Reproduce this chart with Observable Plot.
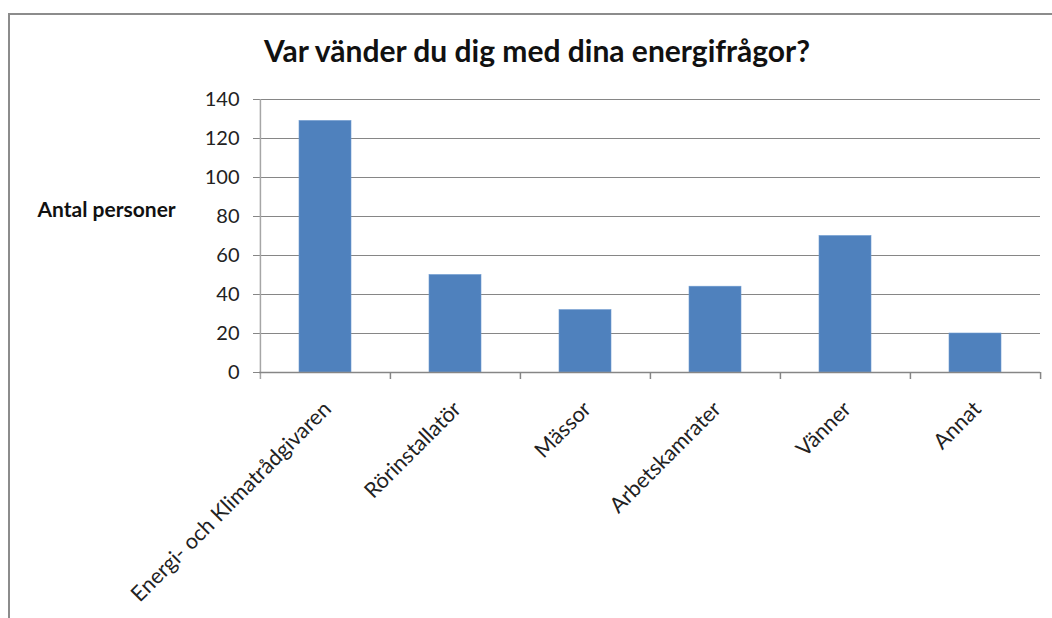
<!DOCTYPE html>
<html><head><meta charset="utf-8">
<script src="https://cdn.jsdelivr.net/npm/d3@7"></script>
<script src="https://cdn.jsdelivr.net/npm/@observablehq/plot@0.6"></script>
<style>
body{margin:0;background:#fff;}
#wrap{position:relative;width:1052px;height:618px;overflow:hidden;font-family:Lato,sans-serif;}
#frame{position:absolute;left:8px;top:13px;width:1100px;height:700px;border-left:2px solid #8c8c8c;border-top:2px solid #8c8c8c;}
#title{position:absolute;left:0;width:1074px;top:32px;text-align:center;font-weight:bold;font-size:30px;color:#111;}
#chart{position:absolute;left:0;top:0;}
</style></head>
<body><div id="wrap"><div id="frame"></div><div id="title">Var vänder du dig med dina energifrågor?</div><div id="chart"></div></div>
<script>
const categories = ["Energi- och Klimatrådgivaren","Rörinstallatör","Mässor","Arbetskamrater","Vänner","Annat"];
const values = [129, 50, 32, 44, 70, 20];
const yTicks = [0,20,40,60,80,100,120,140];
const yLabel = "Antal personer";

const data = categories.map((c,i)=>({cat:c, value:values[i]}));
const W=1052,H=618,ml=259,mr=12,mt=99,mb=246;
const bw=(W-ml-mr)/categories.length;

const plot = Plot.plot({
  width:W,height:H,marginLeft:ml,marginRight:mr,marginTop:mt,marginBottom:mb,
  style:{fontFamily:"Lato, sans-serif",background:"transparent",color:"#222"},
  x:{domain:categories,paddingInner:0.6,paddingOuter:0.3,align:0.5},
  y:{domain:[0,140],ticks:yTicks},
  marks:[
    Plot.gridY(yTicks,{stroke:"#868686",strokeOpacity:1,strokeWidth:1}),
    Plot.ruleX([categories[0]],{x:d=>d,dx:-bw/2,y1:-3.6,y2:140,stroke:"#a6a6a6",strokeWidth:1.5}),
    Plot.barY(data,{x:"cat",y:"value",fill:"#4f81bd",stroke:"#6f9bd0",strokeWidth:0.6}),
    Plot.ruleY([0],{stroke:"#868686",strokeWidth:1.5}),
    Plot.ruleX(categories.slice(1),{x:d=>d,dx:-bw/2,y1:0,y2:-3.6,stroke:"#868686",strokeWidth:1.5}),
    Plot.ruleX([categories[categories.length-1]],{x:d=>d,dx:bw/2,y1:0,y2:-3.6,stroke:"#868686",strokeWidth:1.5}),
    Plot.axisY({ticks:yTicks,tickSize:6,tickPadding:14,fontSize:20,label:null,stroke:"#868686"}),
    Plot.axisX({tickSize:0,tickRotate:-45,tickPadding:33,fontSize:21.5,label:null,textAnchor:"end",dx:2}),
    Plot.text([yLabel],{frameAnchor:"left",dx:-222,y:()=>83,textAnchor:"start",fontSize:21,fontWeight:"bold",fill:"#111"})
  ]
});
document.getElementById("chart").appendChild(plot);
</script></body></html>
